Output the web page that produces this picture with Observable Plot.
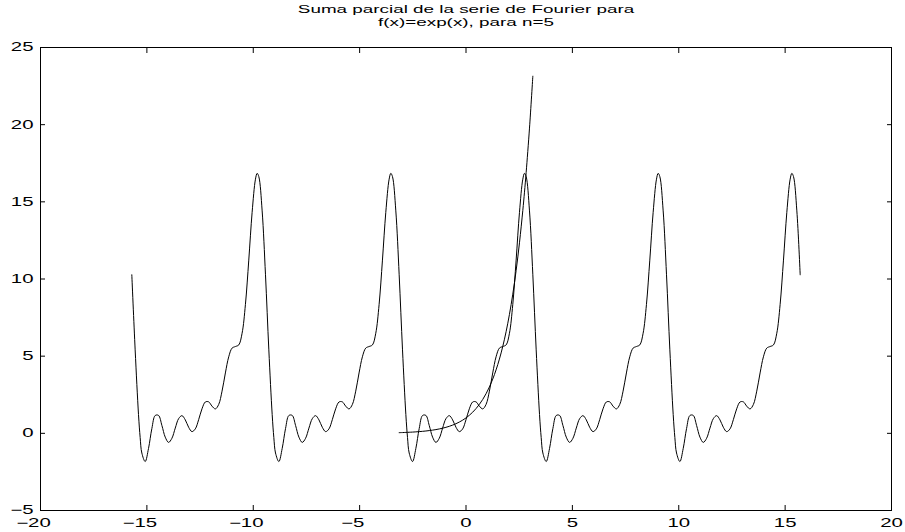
<!DOCTYPE html>
<html>
<head>
<meta charset="utf-8">
<script src="https://cdn.jsdelivr.net/npm/d3@7"></script>
<script src="https://cdn.jsdelivr.net/npm/@observablehq/plot@0.6"></script>
<style>
  html, body { margin: 0; padding: 0; background: #fff; }
</style>
</head>
<body>
<div id="chart"></div>
<script>
// One period of the partial Fourier sum (n = 5), sampled on [-pi, pi]
const periodX = [
  -3.1416, -2.9845, -2.8274, -2.7489, -2.6704, -2.5133, -2.3562, -2.1991, -2.0420, -1.8850, -1.7279,
  -1.5708, -1.4137, -1.2566, -1.0996, -0.9425, -0.7854, -0.6283, -0.4712, -0.3142, -0.1571,
  0,
  0.1571, 0.3142, 0.4712, 0.6283, 0.7854, 0.9425, 1.0996, 1.2566, 1.4137, 1.5708,
  1.7279, 1.8850, 2.0420, 2.1991, 2.3562, 2.5133, 2.6704, 2.7489, 2.8274, 2.9845, 3.1416
];
const fourierY = [
  10.2731, 5.4086, 1.2195, -0.2750, -1.2744, -1.8276, -0.9770, 0.3115, 1.1563, 1.1610, 0.5114,
  -0.2462, -0.5871, -0.3202, 0.3388, 0.9487, 1.1457, 0.8718, 0.3936, 0.1106, 0.2880,
  0.8849,
  1.5891, 2.0314, 2.0390, 1.7612, 1.5825, 1.8719, 2.7321, 3.9125, 4.9597, 5.5225,
  5.6260, 5.7272, 6.4855, 8.3553, 11.2234, 14.3170, 16.4689, 16.8455, 16.6358, 14.4122, 10.2731
];
// f(x) = exp(x) on the same samples of [-pi, pi]
const expY = [
  0.0432, 0.0506, 0.0592, 0.0640, 0.0692, 0.0810, 0.0948, 0.1109, 0.1298, 0.1518, 0.1777,
  0.2079, 0.2432, 0.2846, 0.3330, 0.3897, 0.4559, 0.5335, 0.6242, 0.7304, 0.8546,
  1.0000,
  1.1701, 1.3691, 1.6020, 1.8745, 2.1933, 2.5663, 3.0028, 3.5136, 4.1112, 4.8105,
  5.6287, 6.5861, 7.7063, 9.0171, 10.5507, 12.3453, 14.4451, 15.6250, 16.9021, 19.7770, 23.1407
];
// centres of the five periods shown (-4pi ... 4pi)
const periodCenters = [-12.5664, -6.2832, 0, 6.2832, 12.5664];
const xTicks = [-20, -15, -10, -5, 0, 5, 10, 15, 20];
const yTicks = [-5, 0, 5, 10, 15, 20, 25];
const titleLines = ["Suma parcial de la serie de Fourier para", "f(x)=exp(x), para n=5"];

const fourier = periodCenters.flatMap((c, i) =>
  periodX.map((x, j) => ({x: x + c, y: fourierY[j]})).filter((d, j) => i === 0 || j > 0)
);
const expo = periodX.map((x, j) => ({x, y: expY[j]}));

const fmt = d => d < 0 ? "\u2212" + Math.abs(d) : String(d);
const xNeg = xTicks.filter(d => d < 0);
const xPos = xTicks.filter(d => d >= 0);

const chart = Plot.plot({
  width: 905,
  height: 532,
  marginLeft: 40,
  marginRight: 14,
  marginTop: 47,
  marginBottom: 22,
  style: {fontFamily: "'Liberation Sans', Arial, sans-serif", fontSize: "12px", background: "#fff", color: "#000", overflow: "visible"},
  x: {domain: [-20, 20]},
  y: {domain: [-5, 25]},
  marks: [
    Plot.frame({stroke: "#000", strokeWidth: 1}),
    // inward ticks on all four sides
    Plot.axisX(xTicks, {anchor: "bottom", tickSize: -5, tickFormat: () => "", label: null, stroke: "#000"}),
    Plot.axisX(xTicks, {anchor: "top", tickSize: -5, tickFormat: () => "", label: null, stroke: "#000"}),
    Plot.axisY(yTicks, {anchor: "left", tickSize: -5, tickFormat: () => "", label: null, stroke: "#000"}),
    Plot.axisY(yTicks, {anchor: "right", tickSize: -5, tickFormat: () => "", label: null, stroke: "#000"}),
    // tick labels (digits centred on the tick, minus sign hanging to the left)
    Plot.axisX(xNeg, {anchor: "bottom", tickSize: 0, tickPadding: 8, dx: -7, tickFormat: fmt, label: null, fill: "#000"}),
    Plot.axisX(xPos, {anchor: "bottom", tickSize: 0, tickPadding: 8, tickFormat: fmt, label: null, fill: "#000"}),
    Plot.axisY(yTicks, {anchor: "left", tickSize: 0, tickPadding: 7, tickFormat: fmt, label: null, fill: "#000"}),
    Plot.line(fourier, {x: "x", y: "y", curve: "catmull-rom", stroke: "#000", strokeWidth: 1}),
    Plot.line(expo, {x: "x", y: "y", curve: "catmull-rom", stroke: "#000", strokeWidth: 1}),
    Plot.text([titleLines.join("\n")], {frameAnchor: "top", lineAnchor: "bottom", dy: -22, lineHeight: 1.1, fontSize: 11.5, fill: "#000"})
  ]
});

document.getElementById("chart").appendChild(chart);

// the reference's lettering is horizontally stretched: widen each text about its anchor
chart.querySelectorAll("text").forEach(t => {
  const isTitle = t.textContent.indexOf("Fourier") >= 0;
  const s = isTitle ? 1.64 : 1.7;
  const x = parseFloat(t.getAttribute("x")) || 0;
  const y = parseFloat(t.getAttribute("y")) || 0;
  const prev = t.getAttribute("transform") || "";
  t.setAttribute("transform", `${prev} translate(${x},${y}) scale(${s},1) translate(${-x},${-y})`);
});
</script>
</body>
</html>
